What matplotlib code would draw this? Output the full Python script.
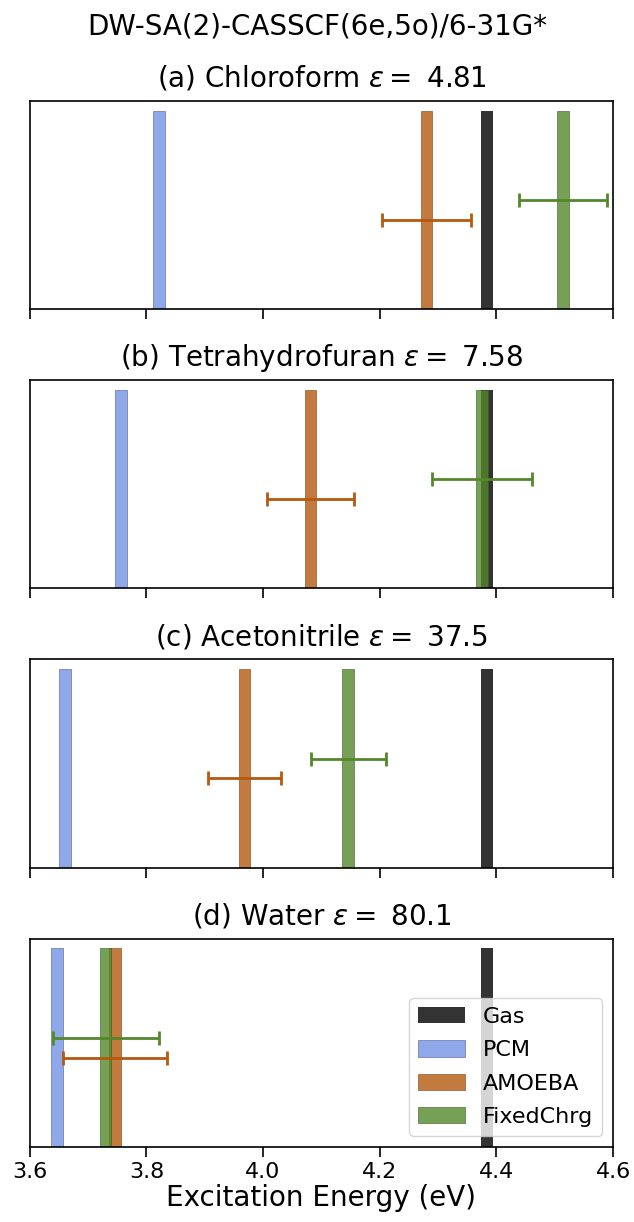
import numpy as np
import matplotlib
matplotlib.use('Agg')
from matplotlib import pyplot as plt

# data
solvents = ['(a) Chloroform', '(b) Tetrahydrofuran', '(c) Acetonitrile', '(d) Water']
eps = ['4.81', '7.58', '37.5', '80.1']
gas = [4.384, 4.384, 4.384, 4.384]
pcm = [3.821, 3.756, 3.660, 3.647]
amoeba = [4.280, 4.081, 3.968, 3.746]
amoeba_err = [0.077, 0.074, 0.062, 0.089]
fixed = [4.514, 4.375, 4.146, 3.730]
fixed_err = [0.075, 0.086, 0.064, 0.091]

c_gas = 'black'
c_pcm = '#7392e5'
c_amoeba = '#b5590e'
c_fixed = '#54882b'
w = 0.02

fig, axes = plt.subplots(4, 1, figsize=(6.34, 12.22), dpi=100, sharex=True)
fig.subplots_adjust(left=0.047, right=0.967, bottom=0.0614, top=0.9175, hspace=0.34)

for i, ax in enumerate(axes):
    ax.bar(gas[i], 1, width=w, color=c_gas, alpha=0.8, label='Gas')
    ax.bar(pcm[i], 1, width=w, color=c_pcm, alpha=0.8, edgecolor='#4a5a90', lw=0.5, label='PCM')
    ax.bar(amoeba[i], 1, width=w, color=c_amoeba, alpha=0.8, edgecolor='#7a4010', lw=0.5, label='AMOEBA')
    ax.bar(fixed[i], 1, width=w, color=c_fixed, alpha=0.8, edgecolor='#3a5a20', lw=0.5, label='FixedChrg')
    ax.errorbar(amoeba[i], 0.45, xerr=amoeba_err[i], color=c_amoeba, capsize=5, lw=2, capthick=2)
    ax.errorbar(fixed[i], 0.55, xerr=fixed_err[i], color=c_fixed, capsize=5, lw=2, capthick=2)
    ax.set_ylim(0, 1.05)
    ax.set_yticks([])
    ax.set_xlim(3.6, 4.6)
    ax.set_xticks([3.6, 3.8, 4.0, 4.2, 4.4, 4.6])
    ax.tick_params(axis='x', labelsize=16, length=7, width=1.2)
    for s in ax.spines.values():
        s.set_linewidth(1.2)
    ax.set_title(solvents[i] + r' $\varepsilon=$ ' + eps[i], fontsize=20, pad=10)

axes[-1].set_xlabel('Excitation Energy (eV)', fontsize=20, labelpad=2)
axes[-1].legend(loc='lower right', fontsize=16, handlelength=2.1,
                handleheight=0.75, labelspacing=0.6)
fig.suptitle('DW-SA(2)-CASSCF(6e,5o)/6-31G*', fontsize=20, y=0.99)

plt.savefig('out.png', dpi=100)
